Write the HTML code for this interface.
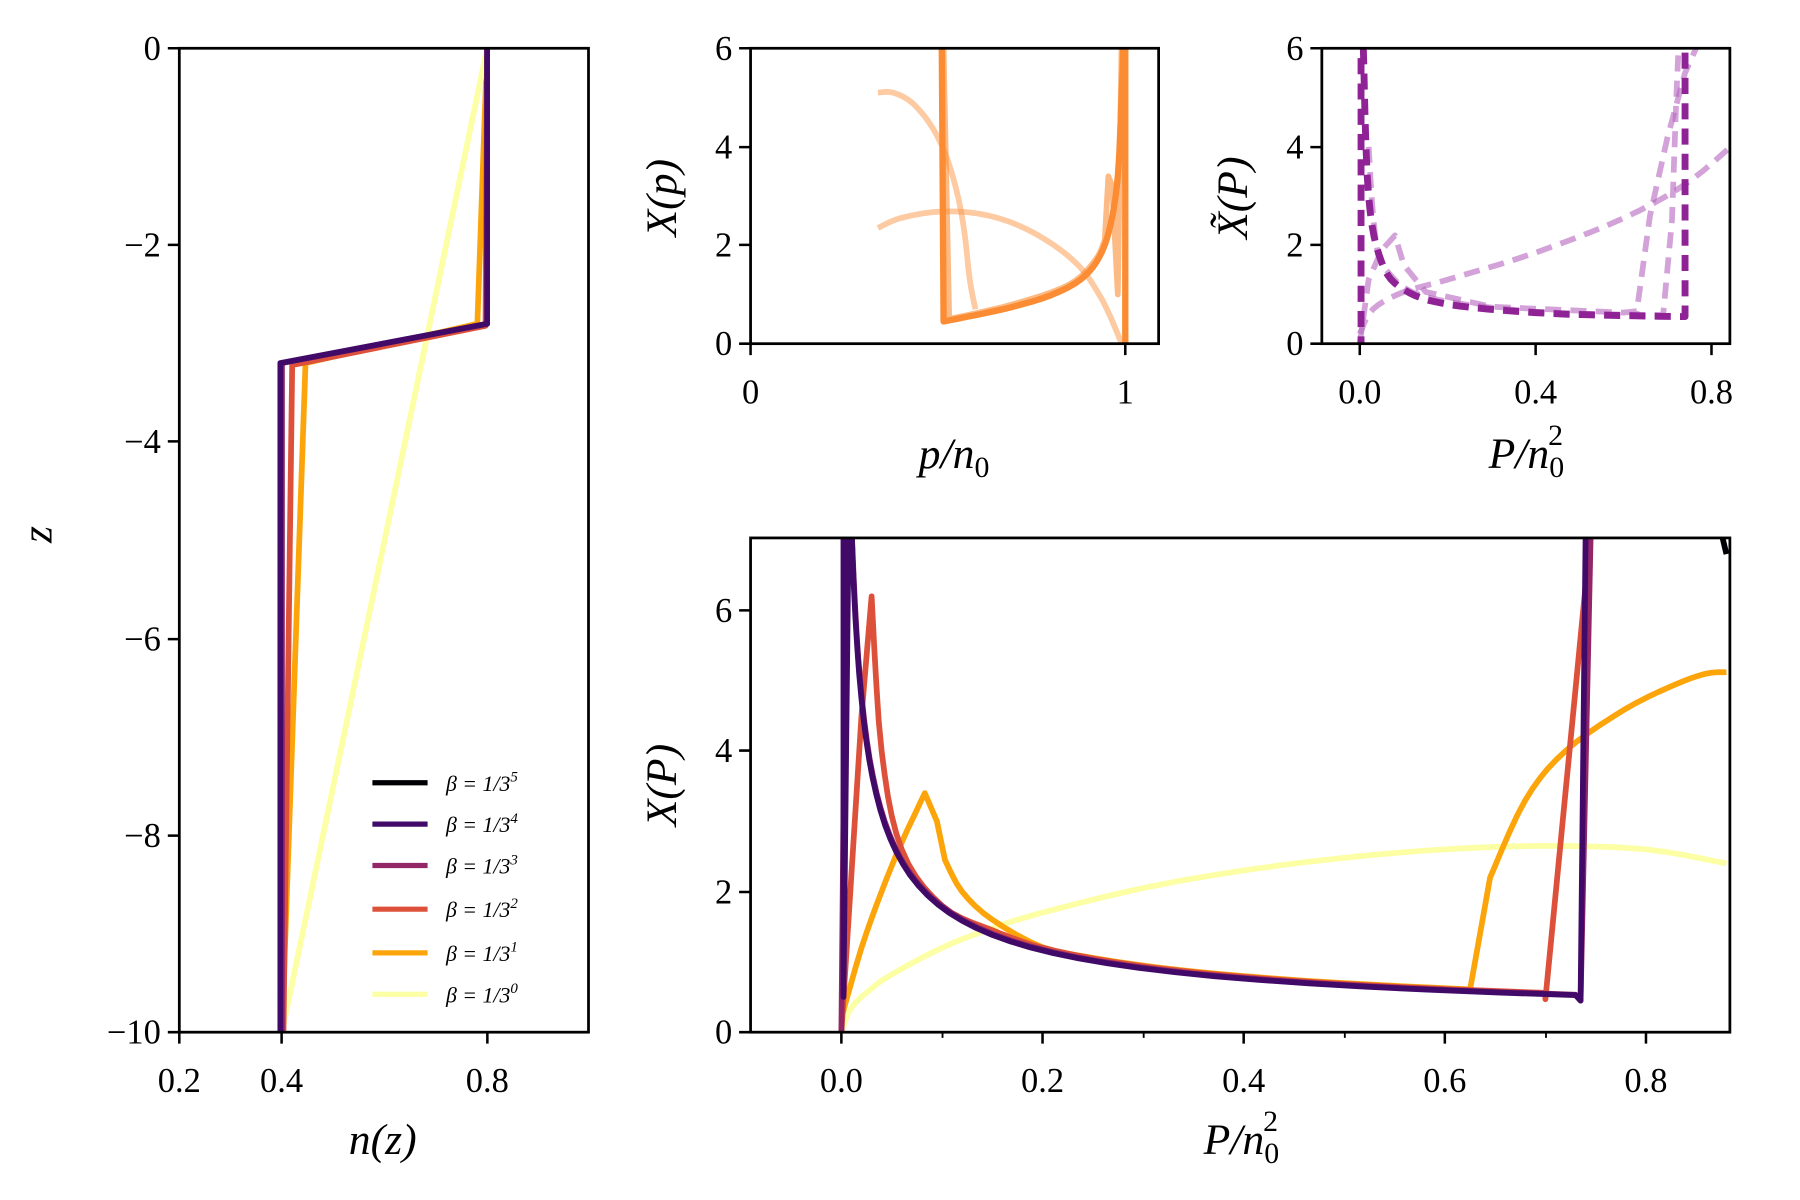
<!DOCTYPE html>
<html><head><meta charset="utf-8">
<style>
html,body{margin:0;padding:0;background:#fff;}
svg{display:block;}
text{font-family:"Liberation Serif","DejaVu Serif",serif;fill:#000;}
.t{font-size:30px;}
.l{font-size:38px;font-style:italic;}
.lg{font-size:19px;font-style:italic;}
</style></head>
<body>
<svg id="s" width="1800" height="1200" viewBox="0 0 1566 1044" xmlns="http://www.w3.org/2000/svg">
<rect width="1566" height="1044" fill="#fff"/>
<defs>
<clipPath id="c1"><rect x="156" y="42" width="356" height="856"/></clipPath>
<clipPath id="c2"><rect x="653" y="42" width="355" height="257"/></clipPath>
<clipPath id="c3"><rect x="1150" y="42" width="355" height="257"/></clipPath>
<clipPath id="c4"><rect x="653" y="468" width="852" height="430"/></clipPath>
</defs>
<g id="g"></g>

<g fill="none" stroke="#000" stroke-width="2.4">
<rect x="156" y="42" width="356" height="856"/>
<rect x="653" y="42" width="355" height="257"/>
<rect x="1150" y="42" width="355" height="257"/>
<rect x="653" y="468" width="852" height="430"/>
</g>
<g stroke="#000" stroke-width="2.2">
<path d="M156,898v10M245,898v10M424,898v10"/>
<path d="M156,42h-10M156,213h-10M156,384h-10M156,556h-10M156,727h-10M156,898h-10"/>
<path d="M653,299v10M979,299v10"/>
<path d="M653,42h-10M653,128h-10M653,213h-10M653,299h-10"/>
<path d="M1183,299v10M1336,299v10M1489,299v10"/>
<path d="M1150,42h-10M1150,128h-10M1150,213h-10M1150,299h-10"/>
<path d="M732,898v10M907,898v10M1082,898v10M1257,898v10M1432,898v10"/>
<path d="M820,898v5M995,898v5M1170,898v5M1345,898v5" stroke-width="1.6"/>
<path d="M653,898h-10M653,776h-10M653,653h-10M653,531h-10"/>
</g>
<g class="t">
<text x="140" y="52" text-anchor="end">0</text>
<text x="140" y="223" text-anchor="end">−2</text>
<text x="140" y="394" text-anchor="end">−4</text>
<text x="140" y="566" text-anchor="end">−6</text>
<text x="140" y="737" text-anchor="end">−8</text>
<text x="140" y="908" text-anchor="end">−10</text>
<text x="156" y="950" text-anchor="middle">0.2</text>
<text x="245" y="950" text-anchor="middle">0.4</text>
<text x="424" y="950" text-anchor="middle">0.8</text>

<text x="637" y="52" text-anchor="end">6</text>
<text x="637" y="138" text-anchor="end">4</text>
<text x="637" y="223" text-anchor="end">2</text>
<text x="637" y="309" text-anchor="end">0</text>
<text x="653" y="351" text-anchor="middle">0</text>
<text x="979" y="351" text-anchor="middle">1</text>

<text x="1134" y="52" text-anchor="end">6</text>
<text x="1134" y="138" text-anchor="end">4</text>
<text x="1134" y="223" text-anchor="end">2</text>
<text x="1134" y="309" text-anchor="end">0</text>
<text x="1183" y="351" text-anchor="middle">0.0</text>
<text x="1336" y="351" text-anchor="middle">0.4</text>
<text x="1489" y="351" text-anchor="middle">0.8</text>

<text x="637" y="908" text-anchor="end">0</text>
<text x="637" y="786" text-anchor="end">2</text>
<text x="637" y="663" text-anchor="end">4</text>
<text x="637" y="541" text-anchor="end">6</text>
<text x="732" y="950" text-anchor="middle">0.0</text>
<text x="907" y="950" text-anchor="middle">0.2</text>
<text x="1082" y="950" text-anchor="middle">0.4</text>
<text x="1257" y="950" text-anchor="middle">0.6</text>
<text x="1432" y="950" text-anchor="middle">0.8</text>
</g>
<g class="l">
<text x="333" y="1004" text-anchor="middle">n(z)</text>
<text x="45" y="465" text-anchor="middle" transform="rotate(-90 45 465)">z</text>
<text x="830" y="407" text-anchor="middle">p/n<tspan font-size="26" dy="8" font-style="normal">0</tspan></text>
<text x="588" y="172" text-anchor="middle" transform="rotate(-90 588 172)">X(p)</text>
<text x="1328" y="407" text-anchor="middle">P/n<tspan font-size="26" dy="8" font-style="normal">0</tspan><tspan font-size="26" dx="-14" dy="-28" font-style="normal">2</tspan></text>
<text x="1085" y="172" text-anchor="middle" transform="rotate(-90 1085 172)">X̃(P)</text>
<text x="1080" y="1004" text-anchor="middle">P/n<tspan font-size="26" dy="8" font-style="normal">0</tspan><tspan font-size="26" dx="-14" dy="-28" font-style="normal">2</tspan></text>
<text x="588" y="683" text-anchor="middle" transform="rotate(-90 588 683)">X(P)</text>
</g>
<g stroke-width="4.5">
<line x1="324" y1="681" x2="372" y2="681" stroke="#000004"/>
<line x1="324" y1="717" x2="372" y2="717" stroke="#420a68"/>
<line x1="324" y1="753" x2="372" y2="753" stroke="#932667"/>
<line x1="324" y1="791" x2="372" y2="791" stroke="#dd513a"/>
<line x1="324" y1="829" x2="372" y2="829" stroke="#fca50a"/>
<line x1="324" y1="865" x2="372" y2="865" stroke="#fcffa4"/>
</g>
<g class="lg">
<text x="388" y="688">β = 1/3<tspan font-size="13" dy="-8">5</tspan></text>
<text x="388" y="724">β = 1/3<tspan font-size="13" dy="-8">4</tspan></text>
<text x="388" y="760">β = 1/3<tspan font-size="13" dy="-8">3</tspan></text>
<text x="388" y="798">β = 1/3<tspan font-size="13" dy="-8">2</tspan></text>
<text x="388" y="836">β = 1/3<tspan font-size="13" dy="-8">1</tspan></text>
<text x="388" y="872">β = 1/3<tspan font-size="13" dy="-8">0</tspan></text>
</g>
</svg>
<script>
(function(){
var g=document.getElementById('g'),NS='http://www.w3.org/2000/svg';
function ax(x0,x1,px0,px1,y0,y1,py0,py1){return function(p){return [px0+(p[0]-x0)/(x1-x0)*(px1-px0), py0+(p[1]-y0)/(y1-y0)*(py1-py0)];};}
function line(m,pts,col,w,clip,extra){var d='';pts.forEach(function(p,i){var q=m(p);d+=(i?'L':'M')+q[0].toFixed(1)+','+q[1].toFixed(1);});
var e=document.createElementNS(NS,'path');e.setAttribute('d',d);e.setAttribute('fill','none');e.setAttribute('stroke',col);e.setAttribute('stroke-width',w);e.setAttribute('stroke-linejoin','round');e.setAttribute('clip-path','url(#'+clip+')');
if(extra)for(var k in extra)e.setAttribute(k,extra[k]);g.appendChild(e);}
function smooth(pts,n){
 var r=[];for(var i=0;i<pts.length-1;i++){var p0=pts[Math.max(0,i-1)],p1=pts[i],p2=pts[i+1],p3=pts[Math.min(pts.length-1,i+2)];
 for(var k=0;k<n;k++){var t=k/n,t2=t*t,t3=t2*t;r.push([0,1].map(function(j){return 0.5*((2*p1[j])+(-p0[j]+p2[j])*t+(2*p0[j]-5*p1[j]+4*p2[j]-p3[j])*t2+(-p0[j]+3*p1[j]-3*p2[j]+p3[j])*t3);}));}}
 r.push(pts[pts.length-1]);return r;}
var W=5;
var mL=ax(0.2,1.0,156,513,0,-10,42,898);
line(mL,[[0.8,0],[0.781,-2.8],[0.446,-3.2],[0.4,-10]],'#fca50a',W,'c1');
line(mL,[[0.8,0],[0.4,-10]],'#fcffa4',W,'c1');
line(mL,[[0.8,0],[0.797,-2.82],[0.42,-3.22],[0.403,-10]],'#dd513a',W,'c1');
line(mL,[[0.8,0],[0.8,-2.8],[0.4,-3.2],[0.4,-10]],'#932667',W,'c1');
line(mL,[[0.8,0],[0.8,-2.8],[0.397,-3.2],[0.397,-10]],'#420a68',W,'c1');
var mM=ax(0,1,653,979,0,6,299,42);
line(mM,smooth([[0.34,5.1],[0.38,5.1],[0.43,4.9],[0.48,4.45],[0.52,3.85],[0.55,3.1],[0.57,2.3],[0.585,1.3],[0.6,0.7]],6),'rgba(252,150,70,0.5)',W,'c2');
line(mM,smooth([[0.34,2.35],[0.4,2.55],[0.5,2.68],[0.6,2.65],[0.7,2.45],[0.8,2.05],[0.88,1.55],[0.93,1.0],[0.96,0.55],[0.985,0.1],[0.99,0]],6),'rgba(252,150,70,0.5)',W,'c2');
line(mM,[[0.515,6],[0.53,0.5]].concat(smooth([[0.53,0.5],[0.7,0.8],[0.85,1.2],[0.92,1.7],[0.945,2.1]],6)).concat([[0.955,3.4],[0.965,3.2],[0.98,1],[0.99,6]]),'rgba(250,140,50,0.6)',W,'c2');
line(mM,[[0.51,6.2],[0.515,0.45]].concat(smooth([[0.515,0.45],[0.6,0.58],[0.7,0.75],[0.8,0.98],[0.88,1.3],[0.93,1.75],[0.96,2.4],[0.98,3.4],[0.99,5],[0.995,6.2]],6)),'#fb8c33',5.5,'c2');
line(mM,[[1.0,6.2],[1.0,0]],'#fb8c33',5.5,'c2');
var mR=ax(0,0.8,1183,1489,0,6,299,42);
var da={'stroke-dasharray':'14,8'};
line(mR,smooth([[0,0.2],[0.03,0.7],[0.1,1.05],[0.2,1.3],[0.4,1.85],[0.6,2.55],[0.75,3.3],[0.88,4.3]],5),'rgba(180,100,190,0.6)',W,'c3',da);
line(mR,[[0,0],[0.02,1.3],[0.05,1.9],[0.08,2.2],[0.1,1.6],[0.15,1.05],[0.3,0.75],[0.6,0.63],[0.63,0.66],[0.66,2.6],[0.7,4.2],[0.74,5.5],[0.78,6.3]],'rgba(180,100,190,0.6)',W,'c3',da);
line(mR,smooth([[0.02,4.0],[0.035,2.2],[0.06,1.5],[0.15,0.95],[0.4,0.65],[0.69,0.58]],5).concat([[0.71,2.5],[0.72,5],[0.725,6]]),'rgba(180,100,190,0.6)',W,'c3',da);
line(mR,[[0.003,5.8],[0.003,0]],'#8f2396',6,'c3',da);
line(mR,smooth([[0.008,6.0],[0.02,3.0],[0.05,1.65],[0.1,1.1],[0.2,0.8],[0.4,0.63],[0.6,0.57],[0.74,0.55]],6).concat([[0.74,6.2]]),'#8f2396',6,'c3',da);
var mB=ax(0,0.8,732,1432,0,6,898,531);
function hyp(a,b,from,to,n){var r=[];for(var i=0;i<=n;i++){var P=from*Math.pow(to/from,i/n);r.push([P,a/Math.pow(P,b)]);}return r;}
line(mB,smooth([[0,0],[0.01,0.35],[0.03,0.62],[0.05,0.82],[0.1,1.2],[0.15,1.48],[0.2,1.7],[0.3,2.05],[0.4,2.3],[0.5,2.48],[0.6,2.6],[0.7,2.65],[0.8,2.6],[0.88,2.4]],5),'#fcffa4',W,'c4');
var oa=0.46,ob=0.6;
line(mB,smooth([[0,0.2],[0.02,1.2],[0.04,2.0],[0.06,2.7],[0.083,3.4]],4).concat([[0.095,3.0],[0.103,2.45]]).concat(smooth([[0.103,2.45],[0.12,2.0],[0.15,1.6],[0.2,oa/Math.pow(0.2,ob)],[0.25,oa/Math.pow(0.25,ob)]],4)).concat(hyp(oa,ob,0.25,0.625,12)).concat([[0.625,0.6],[0.645,2.2]]).concat(smooth([[0.645,2.2],[0.68,3.3],[0.72,4.0],[0.78,4.6],[0.83,4.95],[0.86,5.1],[0.88,5.12]],5)),'#fca50a',W,'c4');
var ra=0.45,rb=0.61;
line(mB,[[0,0],[0.02,4.5],[0.03,6.2]].concat(smooth([[0.03,6.2],[0.04,4.0],[0.06,2.6],[0.1,1.8],[0.15,1.45],[0.2,ra/Math.pow(0.2,rb)],[0.25,ra/Math.pow(0.25,rb)]],5)).concat(hyp(ra,rb,0.25,0.7,14)).concat([[0.7,0.47],[0.745,7.1]]),'#dd513a',W,'c4');
line(mB,[[0,0],[0.004,6],[0.007,7.2],[0.01,7.2]].concat(hyp(0.44,0.61,0.011,0.73,40)).concat([[0.735,0.45],[0.745,7.1]]),'#932667',W,'c4');
line(mB,[[0.002,7.2],[0.002,0.5]].concat(hyp(0.435,0.61,0.008,0.73,40)).concat([[0.735,0.45],[0.74,7.1]]),'#420a68',W,'c4');
line(mB,[[0.875,7.1],[0.88,6.8]],'#000004',W,'c4');
})();
</script>
</body></html>
